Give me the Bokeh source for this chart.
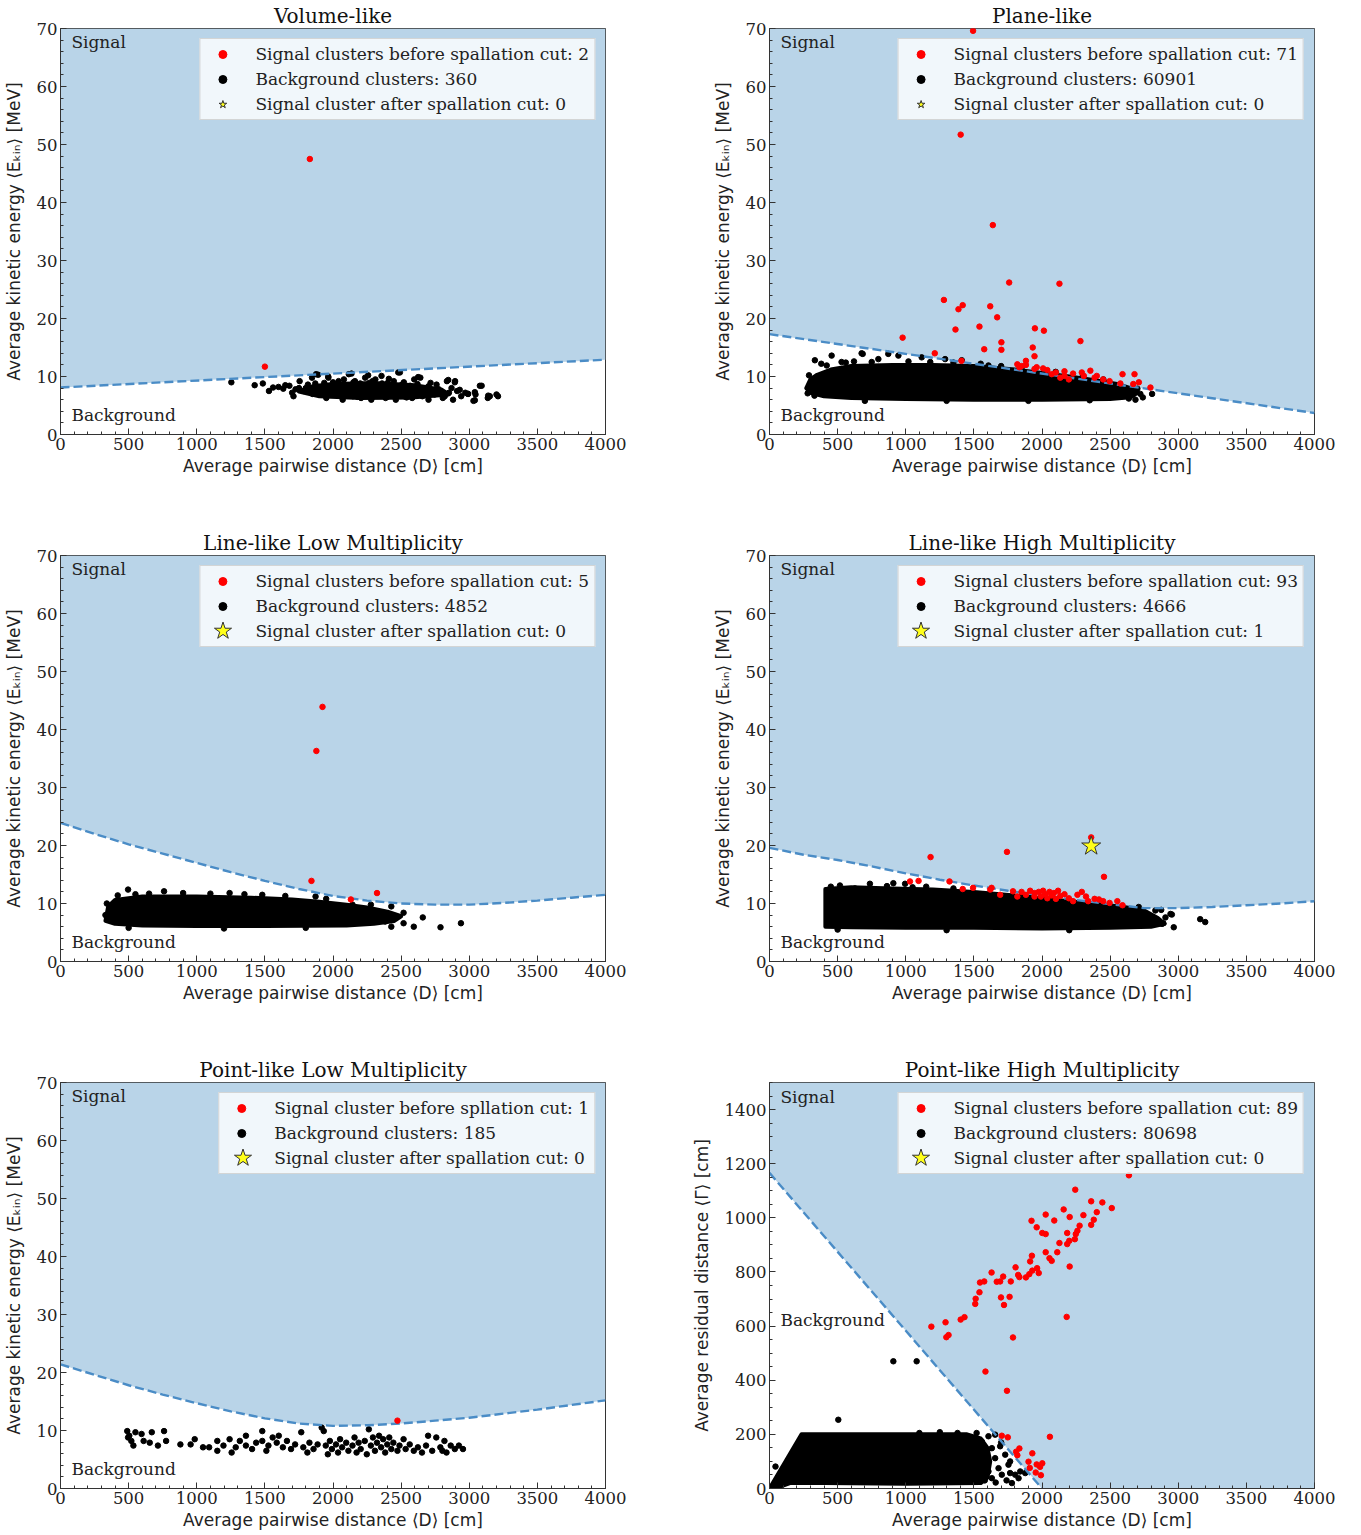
from bokeh.plotting import figure
from bokeh.layouts import gridplot
from bokeh.models import Range1d, SingleIntervalTicker, Legend, LegendItem, Label
from bokeh.embed import file_html
from bokeh.resources import INLINE

# ---------------- data ----------------
X_MAX = 4000
TITLES = ["Volume-like", "Plane-like", "Line-like Low Multiplicity",
          "Line-like High Multiplicity", "Point-like Low Multiplicity", "Point-like High Multiplicity"]

LEGEND_LABELS = [
    ["Signal clusters before spallation cut: 2", "Background clusters: 360", "Signal cluster after spallation cut: 0"],
    ["Signal clusters before spallation cut: 71", "Background clusters: 60901", "Signal cluster after spallation cut: 0"],
    ["Signal clusters before spallation cut: 5", "Background clusters: 4852", "Signal cluster after spallation cut: 0"],
    ["Signal clusters before spallation cut: 93", "Background clusters: 4666", "Signal cluster after spallation cut: 1"],
    ["Signal cluster before spllation cut: 1", "Background clusters: 185", "Signal cluster after spallation cut: 0"],
    ["Signal clusters before spallation cut: 89", "Background clusters: 80698", "Signal cluster after spallation cut: 0"],
]

# cut boundaries (x, y)
volume_cut = [(0, 8.1), (4000, 12.9)]
plane_cut = [(0, 17.3), (4000, 3.7)]
line_low_cut = [(0, 23.9), (250, 22.0), (500, 20.2), (750, 18.6), (1000, 17.0), (1250, 15.4), (1500, 13.9),
                (1750, 12.5), (2000, 11.3), (2250, 10.5), (2500, 10.0), (2750, 9.8), (3000, 9.8), (3250, 10.1),
                (3500, 10.5), (3750, 11.0), (4000, 11.5)]
line_high_cut = [(0, 19.6), (250, 18.4), (500, 17.5), (750, 16.4), (1000, 15.2), (1250, 14.1), (1500, 13.1),
                 (1750, 12.2), (2000, 11.4), (2250, 10.6), (2500, 9.9), (2750, 9.2), (3000, 9.2), (3250, 9.4),
                 (3500, 9.7), (3750, 10.0), (4000, 10.4)]
point_low_cut = [(0, 21.4), (250, 19.6), (500, 17.8), (750, 16.2), (1000, 14.7), (1250, 13.3), (1500, 12.1),
                 (1750, 11.2), (2000, 10.8), (2250, 10.9), (2500, 11.2), (2750, 11.7), (3000, 12.2), (3250, 12.9),
                 (3500, 13.6), (3750, 14.4), (4000, 15.2)]
point_high_cut = [(0, 1166), (2000, 0)]

# dense background regions (outline of the solid black area)
volume_blob = [(1750, 7.4), (1850, 8.3), (2000, 8.7), (2300, 8.9), (2600, 8.5), (2800, 7.7), (2850, 6.9),
               (2600, 6.4), (2200, 6.3), (1900, 6.6)]
plane_blob = [(270, 8.0), (300, 9.5), (350, 10.3), (450, 11.2), (600, 11.8), (900, 12.0), (1200, 12.0),
              (1500, 11.8), (1800, 11.2), (2000, 10.6), (2200, 10.0), (2400, 9.3), (2550, 8.7), (2650, 8.0),
              (2700, 7.2), (2650, 6.4), (2500, 6.1), (2000, 6.0), (1500, 6.0), (1000, 6.1), (600, 6.3),
              (400, 6.6), (300, 7.2)]
line_low_blob = [(330, 7.0), (350, 9.5), (400, 10.6), (600, 11.2), (1000, 11.2), (1400, 11.0), (1700, 10.7),
                 (1900, 10.3), (2100, 9.8), (2250, 9.3), (2400, 8.6), (2500, 7.8), (2450, 7.0), (2300, 6.5),
                 (2100, 6.2), (1500, 6.1), (1000, 6.1), (600, 6.2), (400, 6.5)]
line_high_blob = [(410, 6.0), (410, 12.5), (600, 12.8), (900, 12.6), (1200, 12.4), (1500, 12.0), (1800, 11.4),
                  (2000, 10.9), (2200, 10.4), (2400, 9.9), (2600, 9.4), (2750, 8.8), (2850, 7.5), (2900, 6.5),
                  (2800, 6.0), (2500, 5.8), (2000, 5.7), (1500, 5.8), (1000, 5.8), (600, 5.9)]
point_high_blob = [(0, 0), (235, 200), (1450, 200), (1550, 185), (1600, 150), (1620, 100), (1600, 40),
                   (1550, 20), (1000, 18), (400, 20), (150, 20), (40, 0)]

# individual background clusters
volume_bg = [(1254, 9.0), (1425, 8.5), (1485, 8.8), (1530, 7.5), (1560, 8.1), (1635, 7.9), (1680, 8.4), (1710, 6.6),
             (1725, 7.8), (1755, 9.2), (1786, 7.5), (1816, 8.6), (1846, 9.8), (1876, 10.4), (1891, 7.2), (1906, 8.1),
             (1936, 8.9), (1951, 6.3), (1966, 9.8), (1981, 7.5), (2011, 8.4), (2026, 6.9), (2041, 9.2), (2056, 7.8),
             (2071, 6.0), (2086, 8.6), (2101, 7.2), (2116, 10.4), (2131, 8.1), (2146, 6.6), (2161, 9.2), (2176, 7.5),
             (2191, 8.6), (2206, 6.3), (2221, 8.1), (2236, 9.8), (2251, 7.2), (2266, 8.9), (2281, 6.0), (2296, 7.8),
             (2311, 9.5), (2326, 6.9), (2341, 8.4), (2356, 10.1), (2371, 7.5), (2386, 6.3), (2401, 8.9), (2416, 8.1),
             (2431, 6.9), (2446, 9.2), (2461, 6.0), (2476, 7.8), (2491, 10.7), (2506, 8.6), (2521, 6.6), (2536, 7.5),
             (2566, 8.4), (2581, 6.3), (2596, 9.5), (2611, 7.2), (2626, 8.1), (2641, 9.8), (2656, 6.6), (2686, 7.5),
             (2701, 6.0), (2716, 8.9), (2746, 6.9), (2776, 7.8), (2806, 6.3), (2836, 9.2), (2851, 7.2), (2881, 6.0),
             (2896, 9.2), (2911, 7.5), (2941, 6.6), (2971, 7.2), (3031, 5.8), (3046, 6.9), (3091, 8.4), (3136, 6.3),
             (3151, 6.6), (3211, 6.6),
             (1891, 10.3), (1965, 10.0), (2136, 10.5), (2258, 10.2), (2479, 10.7), (2625, 9.9), (2846, 9.4),
             (2894, 9.0), (3078, 8.4), (2992, 7.0), (3041, 7.3), (3139, 6.7), (3200, 6.9), (3041, 5.9),
             (1800, 8.0), (1850, 7.0), (1870, 8.8), (1920, 7.3), (1960, 8.3), (2000, 7.0), (2000, 9.0), (2030, 8.0),
             (2060, 6.6), (2080, 9.5), (2100, 8.3), (2120, 7.0), (2150, 9.0), (2160, 7.8), (2180, 6.5), (2200, 8.8),
             (2210, 7.4), (2240, 6.8), (2250, 8.5), (2270, 7.6), (2290, 9.2), (2300, 6.6), (2320, 8.0), (2340, 7.1),
             (2360, 8.8), (2380, 7.9), (2400, 6.5), (2410, 9.6), (2440, 7.3), (2460, 8.4), (2480, 6.9), (2500, 7.7),
             (2520, 9.0), (2540, 6.4), (2560, 7.9), (2590, 7.0), (2620, 8.7), (2650, 7.8), (2680, 6.8), (2700, 8.3),
             (2730, 7.3), (2760, 8.6), (2790, 7.0), (2820, 6.6), (2870, 8.0), (2930, 7.7), (2990, 7.0), (1750, 8.0),
             (1700, 7.2), (1650, 8.5), (1600, 8.2)]
plane_bg = [(333, 12.8), (456, 13.6), (529, 12.5), (676, 14.0), (684, 13.9), (799, 13.0), (872, 13.9), (946, 13.6),
            (1117, 13.3), (1289, 13.0), (1411, 12.8), (1607, 11.9), (2588, 7.6), (2637, 6.2), (2686, 7.6),
            (2686, 6.0), (2722, 7.0), (2808, 7.0), (380, 12.2), (620, 12.6), (1020, 12.6), (1350, 12.4),
            (1700, 11.8), (2100, 10.8), (2300, 10.1), (2450, 9.5), (290, 10.2), (280, 7.1), (420, 11.9),
            (560, 12.4), (750, 12.5), (1180, 12.5), (1550, 12.2), (1850, 11.5), (2700, 7.9), (2740, 6.4),
            (330, 6.7), (700, 5.8), (1300, 5.8), (1900, 5.8), (2350, 5.9)]
line_low_bg = [(496, 12.4), (550, 11.6), (760, 12.1), (1241, 11.8), (1481, 11.5), (1872, 11.2), (2143, 9.8),
               (2278, 9.8), (2428, 9.5), (2428, 6.0), (2518, 8.4), (2518, 6.6), (2593, 6.0), (2659, 7.6),
               (2789, 5.9), (2939, 6.6), (2338, 7.5), (2383, 6.9), (2263, 8.1), (2173, 8.9), (900, 11.8),
               (1100, 11.7), (1650, 11.3), (340, 10.0), (330, 8.0), (420, 11.4), (650, 11.7), (1350, 11.6),
               (1950, 10.8), (500, 5.8), (1200, 5.7), (1800, 5.8)]
line_high_bg = [(517, 13.1), (627, 12.6), (737, 13.4), (862, 13.0), (909, 13.5), (995, 13.4), (2710, 9.4),
                (2832, 8.8), (2906, 7.6), (2943, 8.2), (2881, 6.5), (2967, 5.9), (3161, 7.3), (3198, 6.8),
                (1150, 12.9), (1350, 12.6), (2875, 8.9), (2953, 8.1), (2890, 6.6), (450, 12.9), (1050, 12.8),
                (500, 5.5), (1300, 5.4), (2200, 5.4)]
point_low_bg = [(490, 9.9), (505, 9.1), (520, 8.2), (535, 7.4), (496, 8.8), (550, 9.7), (595, 9.4), (610, 8.2),
                (670, 9.7), (655, 7.9), (715, 7.4), (760, 9.9), (775, 8.2), (880, 7.6), (955, 7.6), (985, 8.5),
                (1046, 7.1), (1091, 7.1), (1151, 8.2), (1151, 6.5), (1196, 7.4), (1241, 8.5), (1256, 6.2),
                (1286, 7.1), (1316, 8.2), (1361, 9.1), (1361, 7.4), (1406, 6.8), (1436, 7.9), (1481, 9.9),
                (1481, 8.2), (1511, 6.5), (1526, 7.4), (1557, 8.8), (1587, 7.9), (1602, 9.1), (1632, 7.1),
                (1662, 8.2), (1692, 6.8), (1722, 7.6), (1767, 9.7), (1782, 7.1), (1812, 6.2), (1827, 7.9),
                (1857, 6.8), (1887, 7.6), (1917, 10.5), (1932, 9.9), (1947, 7.4), (1962, 5.9), (1977, 8.2),
                (1992, 6.8), (2022, 7.6), (2037, 6.2), (2052, 8.5), (2067, 7.1), (2097, 7.9), (2113, 6.5),
                (2143, 7.4), (2158, 8.8), (2173, 6.2), (2188, 7.9), (2203, 6.8), (2233, 8.2), (2248, 5.9),
                (2263, 10.2), (2278, 7.4), (2293, 8.8), (2308, 6.5), (2323, 7.9), (2338, 9.1), (2353, 7.1),
                (2368, 8.5), (2383, 6.2), (2398, 7.6), (2413, 8.8), (2428, 6.8), (2443, 7.9), (2473, 6.5),
                (2488, 7.4), (2518, 8.5), (2533, 6.8), (2563, 7.6), (2593, 6.5), (2623, 7.1), (2653, 6.2),
                (2683, 7.4), (2698, 9.1), (2728, 6.5), (2758, 8.8), (2788, 7.1), (2818, 8.2), (2833, 6.2),
                (2864, 7.4), (2894, 6.8), (2924, 7.4), (2954, 6.8), (2803, 6.5)]
point_high_bg = [(1485, 186), (1460, 162), (1558, 174), (1546, 137), (1607, 193), (1632, 149), (1656, 112),
                 (1571, 100), (1509, 75), (1607, 63), (1681, 75), (1705, 51), (1632, 38), (1754, 88), (1766, 57),
                 (1803, 51), (1840, 63), (1877, 57), (1779, 20), (1828, 38), (1656, 199), (1411, 125), (1693, 156),
                 (1730, 125), (1766, 100), (505, 254), (909, 470), (1080, 470), (44, 81), (1700, 170), (1500, 40),
                 (1580, 30), (1660, 22), (1740, 30), (1520, 205), (1380, 205), (1250, 208), (1100, 205)]

# signal clusters before the spallation cut
volume_sig = [(1500, 11.7), (1830, 47.5)]
plane_sig = [(1494, 69.6), (1403, 51.7), (1639, 36.1), (1759, 26.2), (2128, 26.0), (1280, 23.2), (1418, 22.3),
             (1387, 21.6), (1620, 22.1), (1671, 20.2), (1541, 18.6), (1365, 18.1), (1948, 18.3), (2014, 17.9),
             (977, 16.7), (1702, 15.9), (2282, 16.1), (1576, 14.7), (1702, 14.6), (1932, 15.0), (1945, 13.5),
             (1213, 14.0), (1409, 12.7), (1819, 12.1), (1850, 11.8), (1882, 12.0), (1834, 11.6), (1945, 11.3),
             (2008, 11.4), (2039, 11.1), (2102, 10.7), (2165, 10.9), (2228, 10.5), (2292, 10.7), (2355, 11.0),
             (2402, 10.1), (2449, 9.5), (2307, 10.1), (2591, 10.4), (2679, 10.4), (2711, 9.0), (2796, 8.1),
             (2575, 8.8), (2670, 8.7), (2386, 9.8), (2165, 10.1), (1882, 12.7), (1961, 11.6), (2071, 10.4),
             (2134, 9.8), (2197, 9.5), (2496, 9.2)]
line_low_sig = [(1842, 13.9), (1878, 36.3), (1923, 43.9), (2131, 10.7), (2323, 11.8)]
line_high_sig = [(2361, 21.4), (1182, 18.0), (1743, 18.9), (2455, 14.6), (1031, 13.8), (1094, 13.9), (1321, 13.8),
                 (1418, 12.5), (1494, 12.7), (1620, 12.4), (1630, 12.7), (1787, 12.1), (1850, 12.0), (1913, 12.2),
                 (1945, 11.8), (1976, 12.0), (2008, 12.2), (2024, 11.6), (2055, 12.0), (2071, 11.4), (2118, 12.2),
                 (2134, 11.3), (2197, 10.9), (2260, 11.5), (2292, 12.0), (2323, 11.2), (2386, 10.8), (2418, 10.7),
                 (2449, 10.4), (2496, 10.1), (2553, 10.4), (2591, 9.7), (1882, 11.5), (1819, 11.2), (1693, 11.5),
                 (1992, 11.2), (2102, 10.8), (2228, 10.4), (2165, 11.6), (1945, 11.2), (2039, 10.9), (2087, 11.8),
                 (2339, 10.4)]
point_low_sig = [(2473, 11.7)]
point_high_sig = [(2638, 1157), (2244, 1104), (2361, 1061), (2443, 1057), (2159, 1031), (2512, 1036), (2027, 1012),
                  (2203, 1003), (2304, 1010), (2402, 1021), (2090, 990), (1923, 989), (2361, 974), (2380, 993),
                  (2276, 971), (1961, 965), (2002, 944), (2027, 940), (2185, 944), (2248, 940), (2260, 952),
                  (2241, 921), (2128, 907), (2185, 903), (2200, 915), (2027, 873), (2112, 873), (2055, 851),
                  (2071, 841), (1926, 860), (1913, 839), (1964, 814), (1929, 805), (1907, 792), (1976, 796),
                  (1806, 817), (1834, 781), (1882, 780), (1825, 789), (1630, 798), (1715, 783), (1693, 765),
                  (1668, 764), (1771, 765), (1699, 706), (1762, 708), (1721, 678), (1576, 765), (1545, 761),
                  (1541, 725), (1513, 701), (1510, 682), (1431, 633), (1403, 624), (1292, 614), (1314, 567),
                  (1298, 559), (1188, 598), (1787, 558), (2181, 634), (2203, 820), (1585, 432), (1743, 361),
                  (1705, 195), (1749, 189), (1834, 148), (1819, 123), (1810, 136), (1929, 130), (1901, 99),
                  (1910, 76), (1961, 89), (1986, 80), (2002, 93), (1992, 49), (1954, 59), (2058, 191)]

# signal clusters surviving the spallation cut
line_high_star = [(2361, 19.9)]

# ---------------- styling ----------------
FILL = "#b9d4e8"
CUT = "#4a8cc6"
SERIF = "DejaVu Serif"
SANS = "DejaVu Sans"
E_LABEL = "Average kinetic energy \u27e8E\u2096\u1d62\u2099\u27e9 [MeV]"
G_LABEL = "Average residual distance \u27e8\u0393\u27e9 [cm]"
X_LABEL = "Average pairwise distance \u27e8D\u27e9 [cm]"
NAN = float("nan")


def xs(pts):
    return [p[0] for p in pts]


def ys(pts):
    return [p[1] for p in pts]


def panel(idx, col, row, ymax, yint, yminor, ylabel, cut, blob, bg, sig, star, bg_label_y, sig_label_y,
          big_star_left=None):
    left = 59 if col == 0 else 88
    right = 76 if col == 0 else 48
    bottom = 93 if row < 2 else 47
    p = figure(frame_width=545, frame_height=406, min_border_left=left, min_border_right=right,
               min_border_top=28, min_border_bottom=bottom, x_range=Range1d(0, X_MAX), y_range=Range1d(0, ymax),
               output_backend="svg", toolbar_location=None, title=TITLES[idx])
    p.title.text_font = SERIF
    p.title.text_font_size = "20px"
    p.title.text_font_style = "normal"
    p.title.align = "center"
    p.title.standoff = 2
    p.title.text_color = "#111111"
    p.xgrid.visible = False
    p.ygrid.visible = False
    p.outline_line_color = "#333333"
    p.outline_line_width = 1
    p.background_fill_color = "white"
    p.border_fill_color = "white"

    p.xaxis.ticker = SingleIntervalTicker(interval=500, num_minor_ticks=5)
    p.yaxis.ticker = SingleIntervalTicker(interval=yint, num_minor_ticks=yminor)
    p.xaxis.axis_label = X_LABEL
    p.yaxis.axis_label = ylabel
    for ax in (p.xaxis[0], p.yaxis[0]):
        ax.major_tick_in = 6
        ax.major_tick_out = 0
        ax.minor_tick_in = 3
        ax.minor_tick_out = 0
        ax.major_tick_line_color = "#333333"
        ax.minor_tick_line_color = "#333333"
        ax.axis_line_color = "#333333"
        ax.major_label_text_font = SERIF
        ax.major_label_text_font_size = "16.5px"
        ax.major_label_text_color = "#222222"
        ax.major_label_standoff = 3
        ax.axis_label_text_font = SANS
        ax.axis_label_text_font_size = "17px"
        ax.axis_label_text_font_style = "normal"
        ax.axis_label_text_color = "#222222"
        ax.axis_label_standoff = 10
    p.xaxis[0].axis_label_standoff = 3

    # signal region fill
    fx = xs(cut) + [X_MAX, X_MAX, 0]
    fy = ys(cut) + [ys(cut)[-1], ymax, ymax]
    p.patch(fx, fy, fill_color=FILL, line_color=None)

    # background
    if blob:
        p.patch(xs(blob), ys(blob), fill_color="black", line_color="black", line_width=4, line_join="round")
    r_bg = p.scatter(xs(bg), ys(bg), size=5.5, fill_color="black", line_color="black")

    # cut
    p.line(xs(cut), ys(cut), line_color=CUT, line_width=2.4, line_dash="9 4")

    r_sig = p.scatter(xs(sig), ys(sig), size=5.5, fill_color="red", line_color="red")
    if star:
        p.scatter(xs(star), ys(star), marker="star", size=20, fill_color="#ffff1a",
                  line_color="#333333", line_width=1)

    # legend proxy for the star entry (not drawn in the data area)
    star_kw = dict(marker="star", fill_color="#ffff1a", line_color="#333333", line_width=1)
    if big_star_left is not None:
        proxy = p.scatter([NAN], [NAN], size=1, fill_alpha=0, line_alpha=0, marker="star")
    else:
        proxy = p.scatter([NAN], [NAN], size=8, **star_kw)

    labels = LEGEND_LABELS[idx]
    legend = Legend(items=[LegendItem(label=labels[0], renderers=[r_sig]),
                           LegendItem(label=labels[1], renderers=[r_bg]),
                           LegendItem(label=labels[2], renderers=[proxy])],
                    location="top_right", margin=10, padding=5, spacing=5,
                    glyph_width=34, glyph_height=20, label_height=20, label_standoff=16,
                    label_text_font=SERIF, label_text_font_size="17px", label_text_color="#222222",
                    background_fill_color="white", background_fill_alpha=0.8,
                    border_line_color="#cccccc", border_line_alpha=0.8)
    p.add_layout(legend)

    if big_star_left is not None:
        big = p.scatter([NAN], [NAN], size=18, **star_kw)
        star_legend = Legend(items=[LegendItem(label=" ", renderers=[big])],
                             location=(big_star_left, 406 - 53 - 45), margin=0, padding=0, spacing=0,
                             glyph_width=45, glyph_height=45, label_height=10, label_standoff=0,
                             label_text_font_size="2px", background_fill_alpha=0, border_line_alpha=0)
        p.add_layout(star_legend)

    p.add_layout(Label(x=80, y=sig_label_y, text="Signal", text_font=SERIF, text_font_size="17px",
                       text_baseline="middle", text_color="#222222"))
    p.add_layout(Label(x=80, y=bg_label_y, text="Background", text_font=SERIF, text_font_size="17px",
                       text_baseline="middle", text_color="#222222"))
    return p


p1 = panel(0, 0, 0, 70, 10, 5, E_LABEL, volume_cut, volume_blob, volume_bg, volume_sig, [], 3.3, 67.6)
p2 = panel(1, 1, 0, 70, 10, 5, E_LABEL, plane_cut, plane_blob, plane_bg, plane_sig, [], 3.3, 67.6)
p3 = panel(2, 0, 1, 70, 10, 5, E_LABEL, line_low_cut, line_low_blob, line_low_bg, line_low_sig, [], 3.3, 67.6,
           big_star_left=140)
p4 = panel(3, 1, 1, 70, 10, 5, E_LABEL, line_high_cut, line_high_blob, line_high_bg, line_high_sig,
           line_high_star, 3.3, 67.6, big_star_left=129)
p5 = panel(4, 0, 2, 70, 10, 5, E_LABEL, point_low_cut, None, point_low_bg, point_low_sig, [], 3.3, 67.6,
           big_star_left=160)
p6 = panel(5, 1, 2, 1500, 200, 4, G_LABEL, point_high_cut, point_high_blob, point_high_bg, point_high_sig,
           [], 622, 1448, big_star_left=129)

grid = gridplot([[p1, p2], [p3, p4], [p5, p6]], toolbar_location=None)

with open("out.html", "w") as f:
    f.write(file_html(grid, INLINE))
